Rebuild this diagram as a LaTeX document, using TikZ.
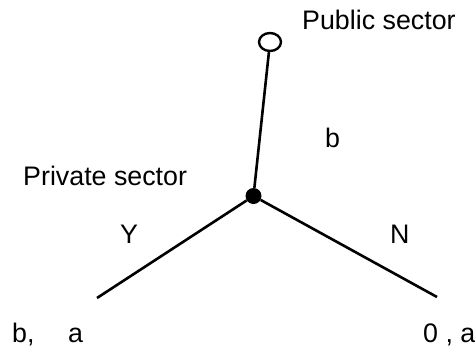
\documentclass[tikz,border=0pt]{standalone}
\usepackage{fontspec}
\setmainfont{Liberation Sans}
\usetikzlibrary{shapes.geometric}
\begin{document}
\begin{tikzpicture}[x=1pt,y=-1pt,
  lbl/.style={inner sep=0pt,font=\fontsize{26.8}{30}\selectfont},
  edge/.style={line width=2.6pt},
  open/.style={draw,line width=2.4pt,ellipse,minimum width=22pt,minimum height=18pt,inner sep=0pt},
  dec/.style={circle,fill=black,minimum size=16pt,inner sep=0pt}]
\useasboundingbox (0,0) rectangle (475,349);
\node[open] (pub) at (270,42) {};
\node[dec] (priv) at (253.5,196) {};
\coordinate (yl) at (97,298);
\coordinate (nr) at (437,297);
\draw[edge] (pub) -- (priv);
\draw[edge] (priv) -- (yl);
\draw[edge] (priv) -- (nr);
\node[lbl,anchor=base west] (tpub) at (302,29) {Public sector};
\node[lbl,anchor=base west] (tpriv) at (23,185) {Private sector};
\node[lbl,anchor=base west] (tb) at (325,147) {b};
\node[lbl,anchor=base west] (ty) at (120,243) {Y};
\node[lbl,anchor=base west] (tn) at (390,243) {N};
\node[lbl,anchor=base west] (tba) at (12,342) {b,};
\node[lbl,anchor=base west] (ta) at (68,342) {a};
\node[lbl,anchor=base west] (t0a) at (423,342) {0 , a};
\end{tikzpicture}
\end{document}
